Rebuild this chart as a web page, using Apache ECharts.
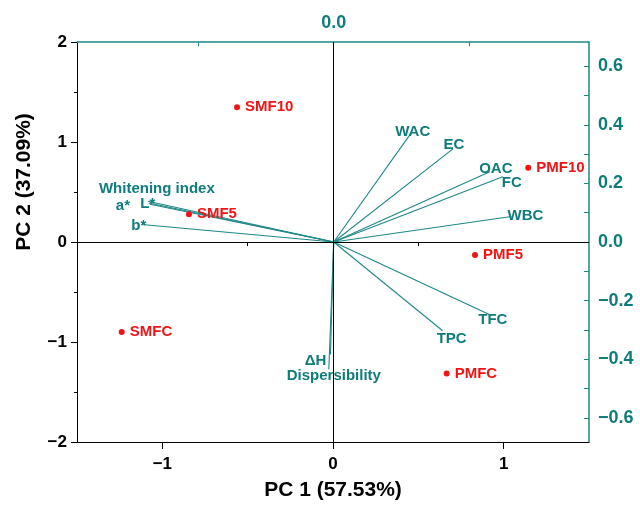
<!DOCTYPE html>
<html><head><meta charset="utf-8">
<script src="https://cdn.jsdelivr.net/npm/echarts@6/dist/echarts.min.js"></script>
<style>html,body{margin:0;padding:0;background:#fff}#c{width:640px;height:506px}</style>
</head><body><div id="c"></div>
<script>
// Scores (samples) – bottom/left axes
const sampleNames = ['SMF10','SMF5','SMFC','PMF10','PMF5','PMFC'];
const pc1Scores = [-0.562, -0.844, -1.238, 1.144, 0.832, 0.666];
const pc2Scores = [1.348, 0.278, -0.900, 0.742, -0.129, -1.314];

// Loadings (variables) – top/right axes
const varNames = ['WAC','EC','OAC','FC','WBC','TFC','TPC','ΔH','Dispersibility','Whitening index','a*','L*','b*'];
const pc1Loadings = [0.144, 0.220, 0.288, 0.312, 0.328, 0.288, 0.201, -0.006, -0.009, -0.341, -0.339, -0.343, -0.354];
const pc2Loadings = [0.375, 0.318, 0.240, 0.223, 0.087, -0.248, -0.303, -0.384, -0.435, 0.133, 0.129, 0.139, 0.060];

// Tick values
const bottomLabels = [-1, 0, 1];
const bottomMinor = [-0.5, 0.5];
const leftLabels = [-2, -1, 0, 1, 2];
const topTicks = [-0.25, 0, 0.25];
const topLabels = [0];
const rightTicks = [-0.6, -0.5, -0.4, -0.3, -0.2, -0.1, 0, 0.1, 0.2, 0.3, 0.4, 0.5, 0.6];
const rightLabels = [-0.6, -0.4, -0.2, 0, 0.2, 0.4, 0.6];

// label placement (style)
const varLabelOffsets = [[1,-0.5],[1,-3.5],[6,-2.5],[9,6.5],[14,-0.5],[3,5.5],[9,8.5],[-15,6.5],[5,6],[8,-14.5],[-27,2],[0,2.5],[-3,1]];

const TEAL = '#0f7c7c';
const LINE_TEAL = '#1f8787';
const RED = '#f01414';
const FONT = '"Liberation Sans", Arial, sans-serif';
const minus = v => (v < 0 ? '\u2212' : '') + Math.abs(v);
const minus1 = v => (v < 0 ? '\u2212' : '') + Math.abs(v).toFixed(1);

const vectorSeries = varNames.map((n, i) => ({
  type: 'line', xAxisIndex: 1, yAxisIndex: 1, symbol: 'none', silent: true,
  lineStyle: {color: LINE_TEAL, width: 1.1, opacity: 1}, z: 3,
  data: [[0, 0], [pc1Loadings[i], pc2Loadings[i]]]
}));

const option = {
  backgroundColor: '#fff',
  animation: false,
  grid: {left: 77, right: 51, top: 42, bottom: 61},
  graphic: [{
    type: 'text', x: 24, y: 182, rotation: Math.PI / 2, silent: true,
    style: {text: 'PC 2 (37.09%)', fontFamily: FONT, fontWeight: 'bold', fontSize: 21, fill: '#000',
            align: 'center', verticalAlign: 'middle'}
  }],
  xAxis: [
    {type: 'value', position: 'bottom', min: -1.5, max: 1.5,
     name: 'PC 1 (57.53%)', nameLocation: 'middle', nameGap: 38,
     nameTextStyle: {fontFamily: FONT, fontWeight: 'bold', fontSize: 21, color: '#000'},
     axisLine: {show: true, onZero: false, lineStyle: {color: '#000', width: 1}},
     axisTick: {show: true, inside: false, length: 7, customValues: bottomLabels, lineStyle: {color: '#000'}},
     axisLabel: {customValues: bottomLabels, formatter: minus, margin: 14, fontFamily: FONT, fontWeight: 'bold', fontSize: 17, color: '#000'},
     splitLine: {show: false}},
    {type: 'value', position: 'top', min: -0.4736, max: 0.4710,
     axisLine: {show: true, onZero: false, lineStyle: {color: LINE_TEAL, width: 1.5}},
     axisTick: {show: true, inside: true, length: 4, customValues: topTicks, lineStyle: {color: LINE_TEAL}},
     axisLabel: {customValues: topLabels, formatter: minus1, margin: 10, fontFamily: FONT, fontWeight: 'bold', fontSize: 18, color: TEAL},
     splitLine: {show: false}},
    {type: 'value', position: 'bottom', min: -1.5, max: 1.5,
     axisLine: {show: false},
     axisTick: {show: true, inside: false, length: 4, customValues: bottomMinor, lineStyle: {color: '#000'}},
     axisLabel: {show: false}, splitLine: {show: false}}
  ],
  yAxis: [
    {type: 'value', position: 'left', min: -2, max: 2, interval: 1,
     axisLine: {show: true, onZero: false, lineStyle: {color: '#000', width: 1}},
     axisTick: {show: true, inside: false, length: 6, lineStyle: {color: '#000'}},
     minorTick: {show: true, splitNumber: 2, length: 3, lineStyle: {color: '#000'}},
     axisLabel: {formatter: minus, showMinLabel: true, showMaxLabel: true, margin: 10, fontFamily: FONT, fontWeight: 'bold', fontSize: 17, color: '#000'},
     splitLine: {show: false}, minorSplitLine: {show: false}},
    {type: 'value', position: 'right', min: -0.6827, max: 0.6827,
     axisLine: {show: true, onZero: false, lineStyle: {color: LINE_TEAL, width: 1.5}},
     axisTick: {show: true, inside: true, length: 5, customValues: rightTicks, lineStyle: {color: LINE_TEAL}},
     axisLabel: {customValues: rightLabels, formatter: minus1, margin: 9, fontFamily: FONT, fontWeight: 'bold', fontSize: 18, color: TEAL},
     splitLine: {show: false}}
  ],
  series: [
    {type: 'scatter', xAxisIndex: 0, yAxisIndex: 0, symbolSize: 0.01, silent: true,
     itemStyle: {color: 'transparent'}, data: [],
     markLine: {silent: true, symbol: 'none', label: {show: false},
       lineStyle: {color: '#000', width: 1, type: 'solid', opacity: 1},
       data: [{xAxis: 0}, {yAxis: 0}]}, z: 1},
    ...vectorSeries,
    {type: 'scatter', xAxisIndex: 1, yAxisIndex: 1, symbolSize: 0.01, silent: true, z: 4,
     itemStyle: {color: 'transparent', opacity: 1},
     label: {show: true, position: 'inside', color: TEAL, opacity: 1, fontFamily: FONT, fontWeight: 'bold', fontSize: 15},
     data: varNames.map((n, i) => ({name: n, value: [pc1Loadings[i], pc2Loadings[i]],
       label: {formatter: n, offset: varLabelOffsets[i]}}))},
    {type: 'scatter', xAxisIndex: 0, yAxisIndex: 0, symbolSize: 6, z: 5, silent: true,
     itemStyle: {color: RED, opacity: 1},
     label: {show: true, position: 'right', distance: 5, color: RED, opacity: 1, fontFamily: FONT, fontWeight: 'bold', fontSize: 15,
       formatter: p => p.name},
     data: sampleNames.map((n, i) => ({name: n, value: [pc1Scores[i], pc2Scores[i]]}))}
  ]
};
const chart = echarts.init(document.getElementById('c'), null, {renderer: 'canvas'});
chart.setOption(option);
</script></body></html>
